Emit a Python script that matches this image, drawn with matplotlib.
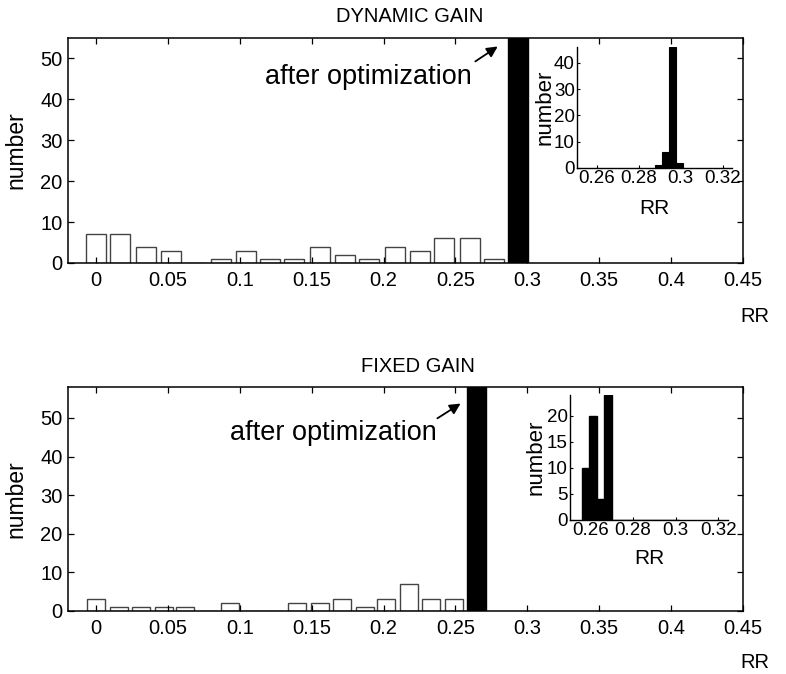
import matplotlib
matplotlib.use("Agg")
import matplotlib.pyplot as plt

plt.rcParams['font.family'] = ['Liberation Sans', 'DejaVu Sans']

# ---- data ----
# DYNAMIC GAIN (before optimization histogram)
dyn_centers = [0.000, 0.017, 0.035, 0.052, 0.069, 0.087, 0.104, 0.121, 0.138,
               0.156, 0.173, 0.190, 0.208, 0.225, 0.242, 0.260, 0.277]
dyn_counts = [7, 7, 4, 3, 0, 1, 3, 1, 1, 4, 2, 1, 4, 3, 6, 6, 1]
dyn_opt_center = 0.2936
dyn_opt_count = 55
dyn_inset_centers = [0.2893, 0.2926, 0.2959, 0.2993]
dyn_inset_counts = [1, 6, 46, 2]

# FIXED GAIN
fix_centers = [0.000, 0.016, 0.031, 0.047, 0.062, 0.078, 0.093, 0.109, 0.124,
               0.140, 0.156, 0.171, 0.187, 0.202, 0.218, 0.233, 0.249]
fix_counts = [3, 1, 1, 1, 1, 0, 2, 0, 0, 2, 2, 3, 1, 3, 7, 3, 3]
fix_opt_center = 0.2646
fix_opt_count = 58
fix_inset_centers = [0.2578, 0.2613, 0.2648, 0.2683, 0.2718, 0.2753, 0.2788,
                     0.2823, 0.2858, 0.2893, 0.2928, 0.2963, 0.2998]
fix_inset_counts = [10, 20, 4, 24, 0, 0, 0, 0, 0, 0, 0, 0, 0]

main_xticks = [0, 0.05, 0.1, 0.15, 0.2, 0.25, 0.3, 0.35, 0.4, 0.45]
main_xticklabels = ['0', '0.05', '0.1', '0.15', '0.2', '0.25', '0.3', '0.35', '0.4', '0.45']
main_yticks = [0, 10, 20, 30, 40, 50]
inset_xticks = [0.26, 0.28, 0.3, 0.32]
inset_xticklabels = ['0.26', '0.28', '0.3', '0.32']
dyn_inset_yticks = [0, 10, 20, 30, 40]
fix_inset_yticks = [0, 5, 10, 15, 20]

W, H = 786, 674
fig = plt.figure(figsize=(W / 100, H / 100), dpi=100)


def px_axes(l, t, r, b):
    return fig.add_axes([l / W, 1 - b / H, (r - l) / W, (b - t) / H])


def style_main(ax, ymax):
    ax.set_xlim(-0.0195, 0.45)
    ax.set_ylim(0, ymax)
    ax.set_xticks(main_xticks)
    ax.set_xticklabels(main_xticklabels)
    ax.set_yticks(main_yticks)
    ax.tick_params(direction='in', top=True, right=True, length=4, width=0.9,
                   labelsize=14.5)
    ax.tick_params(axis='x', pad=6)
    ax.tick_params(axis='y', pad=4)
    for s in ax.spines.values():
        s.set_linewidth(1.1)
    ax.set_ylabel('number', fontsize=16.5)
    ax.yaxis.set_label_coords(-0.06, 0.5)


def style_inset(ax, ymax, yticks, xlab_y, ylab_x):
    ax.set_xlim(0.2505, 0.3245)
    ax.set_ylim(0, ymax)
    ax.set_xticks(inset_xticks)
    ax.set_xticklabels(inset_xticklabels)
    ax.set_yticks(yticks)
    ax.spines['top'].set_visible(False)
    ax.spines['right'].set_visible(False)
    for s in ['left', 'bottom']:
        ax.spines[s].set_linewidth(1.0)
    ax.tick_params(direction='in', length=2.5, width=0.8, labelsize=13.5, pad=1.5)
    ax.set_xlabel('RR', fontsize=15)
    ax.set_ylabel('number', fontsize=16, labelpad=0)
    ax.xaxis.set_label_coords(0.5, xlab_y)
    ax.yaxis.set_label_coords(ylab_x, 0.5)
    ax.patch.set_alpha(0)


# ---- top: DYNAMIC GAIN ----
ax1 = px_axes(68, 38, 743, 263)
ax1.bar(dyn_centers, dyn_counts, width=0.0139, color='white', edgecolor='#444444',
        linewidth=1.0)
ax1.bar([dyn_opt_center], [dyn_opt_count], width=0.014, color='black', edgecolor='black')
style_main(ax1, 55)
ax1.annotate('', xy=(0.281, 53.3), xytext=(0.2622, 48.9),
             arrowprops=dict(arrowstyle='-|>', color='black', lw=1.3, mutation_scale=16))
ax1.text(0.2615, 43.8, 'after optimization', ha='right', va='baseline', fontsize=19.5)

ins1 = px_axes(577, 47, 732, 168)
ins1.bar(dyn_inset_centers, dyn_inset_counts, width=0.0033, color='black',
         edgecolor='black', linewidth=0.8)
style_inset(ins1, 46, dyn_inset_yticks, -0.26, -0.14)

fig.text(410 / W, 1 - 17 / H, 'DYNAMIC GAIN', ha='center', va='center', fontsize=14.5)
fig.text(755 / W, 1 - 317 / H, 'RR', ha='center', va='center', fontsize=14.5)

# ---- bottom: FIXED GAIN ----
ax2 = px_axes(68, 387, 743, 611)
ax2.bar(fix_centers, fix_counts, width=0.0125, color='white', edgecolor='#444444',
        linewidth=1.0)
ax2.bar([fix_opt_center], [fix_opt_count], width=0.0133, color='black', edgecolor='black')
style_main(ax2, 58)
ax2.annotate('', xy=(0.2552, 54.1), xytext=(0.2358, 49.5),
             arrowprops=dict(arrowstyle='-|>', color='black', lw=1.3, mutation_scale=16))
ax2.text(0.2372, 44.3, 'after optimization', ha='right', va='baseline', fontsize=19.5)

ins2 = px_axes(570, 395, 728, 520)
ins2.bar(fix_inset_centers, fix_inset_counts, width=0.0035, color='black',
         edgecolor='black', linewidth=1.0)
style_inset(ins2, 24, fix_inset_yticks, -0.235, -0.15)

fig.text(418 / W, 1 - 366 / H, 'FIXED GAIN', ha='center', va='center', fontsize=14.5)
fig.text(755 / W, 1 - 662 / H, 'RR', ha='center', va='center', fontsize=14.5)

fig.savefig('out.png', dpi=100)
